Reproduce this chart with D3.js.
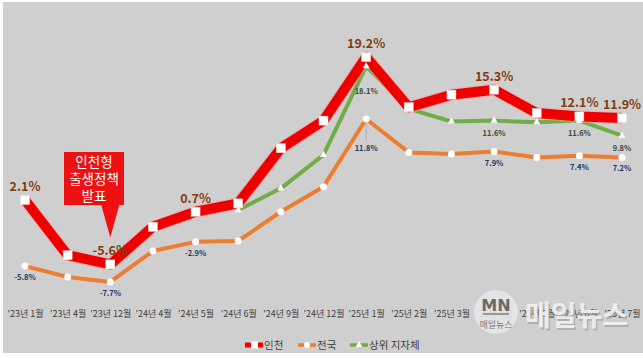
<!DOCTYPE html>
<html><head><meta charset="utf-8">
<script src="https://cdn.jsdelivr.net/npm/d3@7/dist/d3.min.js"></script>
<style>body{margin:0;background:#fff}svg{display:block}</style>
</head><body>
<script>
const categories = ["'23년 1월","'23년 4월","'23년 12월","'24년 4월","'24년 5월","'24년 6월","'24년 9월","'24년 12월","'25년 1월","'25년 2월","'25년 3월","'25년 4월","'25년 5월","'25년 6월","'25년 7월"];
const incheon = [2.1,-4.5,-5.6,-1.1,0.7,1.7,8.3,11.6,19.2,13.2,14.7,15.3,12.5,12.1,11.9];
const national = [-5.8,-7.1,-7.7,-4.0,-2.9,-2.8,0.7,3.7,11.8,7.8,7.6,7.9,7.2,7.4,7.2];
const topLocal = [null,null,null,null,null,0.9,3.5,7.5,18.1,13.0,11.5,11.6,11.4,11.6,9.8];
const incheonLabeled = [0,2,4,8,11,13,14];
const nationalLabeled = [0,2,4,8,11,13,14];
const topLabeled = [8,11,13,14];
const seriesNames = ["인천","전국","상위 지자체"];

const W=643,H=358;
const FONT="'Noto Sans CJK KR','Noto Sans',sans-serif";
const svg=d3.select("body").append("svg").attr("width",W).attr("height",H).style("font-family",FONT);
svg.append("rect").attr("width",W).attr("height",H).attr("fill","#ffffff");
svg.append("rect").attr("x",3).attr("y",2).attr("width",W-3).attr("height",351).attr("fill","#d0cfcf");

const x=d3.scalePoint().domain(categories).range([25,622]);
const y=d3.scaleLinear().domain([-10,25]).range([301.2,8.6]);

// x axis labels
const xAxis=d3.axisBottom(x).tickSize(0).tickPadding(0);
const gx=svg.append("g").attr("transform","translate(0,311)").call(xAxis);
gx.select(".domain").remove();
gx.selectAll("text").attr("font-size",9).attr("fill","#404040").attr("font-family",FONT);

const line=d3.line().defined(d=>d.v!=null).x(d=>x(d.c)).y(d=>y(d.v));
const toPts=arr=>arr.map((v,i)=>({c:categories[i],v,i}));

svg.append("path").datum(toPts(national)).attr("d",line).attr("fill","none").attr("stroke","#ED7D31").attr("stroke-width",4).attr("stroke-linejoin","round");
svg.append("path").datum(toPts(topLocal)).attr("d",line).attr("fill","none").attr("stroke","#70AD47").attr("stroke-width",4).attr("stroke-linejoin","round");
svg.append("path").datum(toPts(incheon)).attr("d",line).attr("fill","none").attr("stroke","#f4a0a0").attr("stroke-width",12.5).attr("stroke-linejoin","round").attr("opacity",0.5);
svg.append("path").datum(toPts(incheon)).attr("d",line).attr("fill","none").attr("stroke","#ee0000").attr("stroke-width",10).attr("stroke-linejoin","round");

svg.append("g").selectAll("circle").data(toPts(national)).join("circle")
 .attr("cx",d=>x(d.c)).attr("cy",d=>y(d.v)).attr("r",3.5).attr("fill","#fff");
svg.append("g").selectAll("path").data(toPts(topLocal).filter(d=>d.v!=null)).join("path")
 .attr("d",d3.symbol(d3.symbolTriangle,22)).attr("transform",d=>`translate(${x(d.c)},${y(d.v)})`).attr("fill","#fff");
svg.append("g").selectAll("rect").data(toPts(incheon)).join("rect")
 .attr("x",d=>x(d.c)-4.5).attr("y",d=>y(d.v)-4.5).attr("width",9).attr("height",9).attr("fill","#fff").attr("stroke","#ddd").attr("stroke-width",0.5);

// leader lines
svg.append("line").attr("x1",x(categories[8])).attr("x2",x(categories[8])).attr("y1",y(national[8])+4).attr("y2",y(national[8])+22).attr("stroke","#999").attr("stroke-width",0.6);

const fmt=v=>v.toFixed(1)+"%";
svg.append("g").selectAll("text").data(incheonLabeled.map(i=>({c:categories[i],v:incheon[i]}))).join("text")
 .attr("x",d=>x(d.c)).attr("y",d=>y(d.v)-9).attr("text-anchor","middle").attr("font-size",12.5).attr("font-weight","bold").attr("fill","#843C0C").text(d=>fmt(d.v));
svg.append("g").selectAll("text").data(nationalLabeled.map(i=>({c:categories[i],v:national[i],i}))).join("text")
 .attr("x",d=>x(d.c)).attr("y",d=>y(d.v)+(d.i===8?32:14)).attr("text-anchor","middle").attr("font-size",7.5).attr("font-weight","bold").attr("fill","#1F3864").text(d=>fmt(d.v));
svg.append("g").selectAll("text").data(topLabeled.map(i=>({c:categories[i],v:topLocal[i],i}))).join("text")
 .attr("x",d=>x(d.c)).attr("y",d=>y(d.v)+(d.i===8?28:15)).attr("text-anchor","middle").attr("font-size",7.5).attr("font-weight","bold").attr("fill","#3d4a36").text(d=>fmt(d.v));

// callout
const tx=x(categories[2]), ty=y(incheon[2])-27;
const cx0=64,cx1=124,cy0=152,cy1=205;
svg.append("path").attr("d",`M${cx0},${cy0}H${cx1}V${cy1}H${tx+9}L${tx},${ty}L${tx-9},${cy1}H${cx0}Z`).attr("fill","#ee1111");
["인천형","출생정책","발표"].forEach((t,i)=>{
 svg.append("text").attr("x",(cx0+cx1)/2).attr("y",cy0+15+i*17).attr("text-anchor","middle").attr("font-size",13.5).attr("fill","#fff").text(t);
});

// legend
const lg=svg.append("g").attr("transform","translate(245,345)");
const items=[{n:seriesNames[0],c:"#ee0000",m:"rect",w:53},{n:seriesNames[1],c:"#ED7D31",m:"circle",w:52},{n:seriesNames[2],c:"#70AD47",m:"tri",w:80}];
let ox=0;
items.forEach(it=>{
 const g=lg.append("g").attr("transform",`translate(${ox},0)`);
 g.append("line").attr("x1",0).attr("x2",18).attr("y1",0).attr("y2",0).attr("stroke",it.c).attr("stroke-width",it.m==="rect"?5:3.5);
 if(it.m==="rect") g.append("rect").attr("x",6).attr("y",-3.5).attr("width",7).attr("height",7).attr("fill","#fff");
 else if(it.m==="circle") g.append("circle").attr("cx",9).attr("cy",0).attr("r",3).attr("fill","#fff");
 else g.append("path").attr("d",d3.symbol(d3.symbolTriangle,20)).attr("transform","translate(9,0)").attr("fill","#fff");
 g.append("text").attr("x",19).attr("y",4).attr("font-size",10.5).attr("fill","#404040").text(it.n);
 ox+=it.w;
});

// watermark
const wm=svg.append("g");
wm.append("circle").attr("cx",496).attr("cy",312).attr("r",22).attr("fill","#e6e6e6").attr("opacity",0.9);
wm.append("text").attr("x",496).attr("y",311).attr("text-anchor","middle").attr("font-size",16).attr("font-weight","bold").attr("fill","#6a6a6a").attr("font-family","'DejaVu Sans',sans-serif").text("MN");
wm.append("line").attr("x1",483).attr("x2",509).attr("y1",314).attr("y2",314).attr("stroke","#6a6a6a").attr("stroke-width",1.2);
wm.append("text").attr("x",496).attr("y",328).attr("text-anchor","middle").attr("font-size",9).attr("fill","#777").text("매일뉴스");
wm.append("text").attr("x",525).attr("y",326).attr("font-size",28).attr("font-weight","bold").attr("fill","#9a9a9a").attr("opacity",0.6).attr("transform","translate(1.5,2)").text("매일뉴스");
wm.append("text").attr("x",525).attr("y",326).attr("font-size",28).attr("font-weight","bold").attr("fill","#f2f2f2").attr("opacity",0.9).text("매일뉴스");
</script>
</body></html>
